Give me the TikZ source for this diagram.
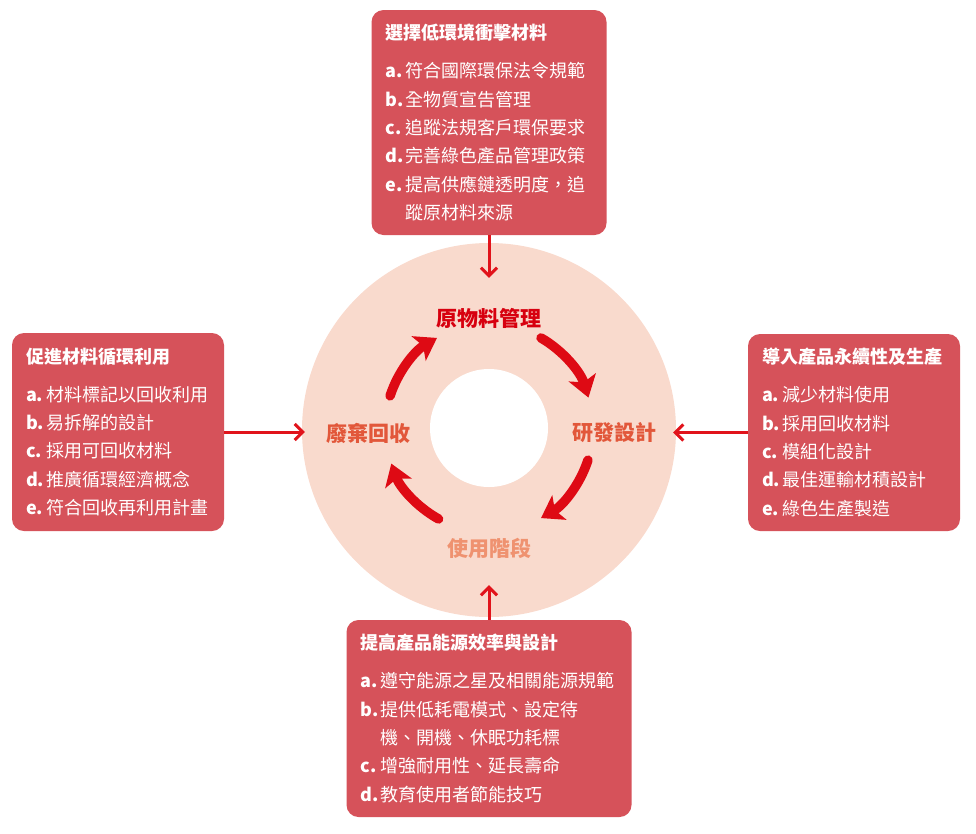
\documentclass[tikz,border=0pt]{standalone}
\usepackage{fontspec}
\newfontfamily\cjk{Noto Sans CJK TC}
\usetikzlibrary{arrows.meta,positioning}

\definecolor{boxred}{HTML}{D6525A}
\definecolor{ringpeach}{HTML}{F9DACD}
\definecolor{arrowred}{HTML}{E1131B}
\definecolor{cyclered}{HTML}{DE0A14}
\definecolor{stagered}{HTML}{D7000F}
\definecolor{stageorange}{HTML}{E2573A}
\definecolor{stagelight}{HTML}{EF9270}

\newcommand{\itm}[2]{\makebox[20pt][l]{\bfseries #1.}#2}
\newcommand{\cont}[1]{\hspace*{20pt}#1}

\tikzset{
  infobox/.style = {fill=boxred, rounded corners=12pt, text=white, align=left,
    inner xsep=14pt, inner ysep=0pt, font=\cjk\fontsize{18}{28.3}\selectfont},
  feed/.style = {draw=arrowred, line width=3pt,
    -{Straight Barb[length=8pt,width=16pt,line width=3pt]}},
  cyclearrow/.style = {draw=cyclered, line width=9.5pt, line cap=round,
    -{Stealth[length=21pt,width=28pt,inset=5pt,line cap=butt]}},
  stage/.style = {font=\cjk\bfseries\fontsize{21}{21}\selectfont}
}

\begin{document}
\begin{tikzpicture}[x=1pt, y=-1pt]
\useasboundingbox (0,0) rectangle (976,833);

% ring
\node [circle, fill=ringpeach, minimum size=374pt, inner sep=0pt] (ring) at (489,430) {};
\node [circle, fill=white, minimum size=118pt, inner sep=0pt] (hole) at (489,428) {};
\coordinate (hub) at (489,428);

% stages
\node [stage, text=stagered] (raw) at (489,318) {原物料管理};
\node [stage, text=stageorange] (design) at (614,433) {研發設計};
\node [stage, text=stagelight] (usage) at (489,548) {使用階段};
\node [stage, text=stageorange] (waste) at (368,433) {廢棄回收};

% cycle arrows
\draw [cyclearrow] (hub) ++(-162:104) arc [start angle=-162, end angle=-120, radius=104];
\draw [cyclearrow] (hub) ++(-60:104) arc [start angle=-60, end angle=-17, radius=104];
\draw [cyclearrow] (hub) ++(18:104) arc [start angle=18, end angle=60, radius=104];
\draw [cyclearrow] (hub) ++(119:104) arc [start angle=119, end angle=160, radius=104];

% boxes
\node [infobox, minimum width=235pt, minimum height=225pt, text width=207pt] (material) at (489,122.5)
  {{\bfseries 選擇低環境衝擊材料}\\[9.7pt]
   \itm{a}{符合國際環保法令規範}\\
   \itm{b}{全物質宣告管理}\\
   \itm{c}{追蹤法規客戶環保要求}\\
   \itm{d}{完善綠色產品管理政策}\\
   \itm{e}{提高供應鏈透明度，追}\\
   \cont{蹤原材料來源}};
\node [infobox, minimum width=212pt, minimum height=198pt, text width=184pt] (loop) at (118,432)
  {{\bfseries 促進材料循環利用}\\[9.7pt]
   \itm{a}{材料標記以回收利用}\\
   \itm{b}{易拆解的設計}\\
   \itm{c}{採用可回收材料}\\
   \itm{d}{推廣循環經濟概念}\\
   \itm{e}{符合回收再利用計畫}};
\node [infobox, minimum width=212pt, minimum height=197pt, text width=184pt] (product) at (854,432.5)
  {{\bfseries 導入產品永續性及生產}\\[9.7pt]
   \itm{a}{減少材料使用}\\
   \itm{b}{採用回收材料}\\
   \itm{c}{模組化設計}\\
   \itm{d}{最佳運輸材積設計}\\
   \itm{e}{綠色生產製造}};
\node [infobox, minimum width=285pt, minimum height=197pt, text width=257pt] (energy) at (489,718.5)
  {{\bfseries 提高產品能源效率與設計}\\[9.7pt]
   \itm{a}{遵守能源之星及相關能源規範}\\
   \itm{b}{提供低耗電模式、設定待}\\
   \cont{機、開機、休眠功耗標}\\
   \itm{c}{增強耐用性、延長壽命}\\
   \itm{d}{教育使用者節能技巧}};

% feed arrows
\draw [feed] (material.south) -- ([yshift=-35pt]ring.north);
\draw [feed] (energy.north) -- ([yshift=32pt]ring.south);
\draw [feed] (loop.east) -- ([xshift=3pt]loop.east -| ring.west);
\draw [feed] (product.west) -- ([xshift=-3pt]product.west -| ring.east);
\end{tikzpicture}
\end{document}
